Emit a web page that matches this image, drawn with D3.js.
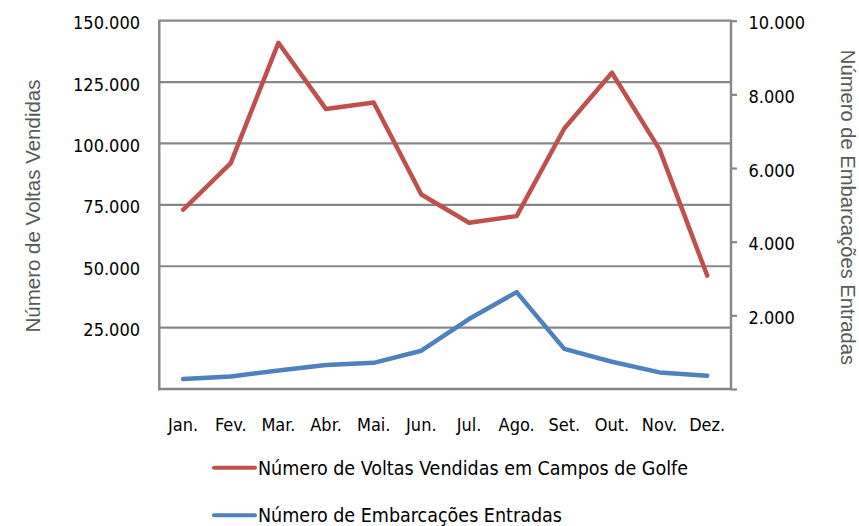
<!DOCTYPE html>
<html><head><meta charset="utf-8">
<script src="https://cdn.jsdelivr.net/npm/d3@7"></script>
<style>
body{margin:0;background:#fff;}
svg{display:block;}
</style></head><body>
<svg id="chart" width="859" height="526"></svg>
<script>
const months = ["Jan.","Fev.","Mar.","Abr.","Mai.","Jun.","Jul.","Ago.","Set.","Out.","Nov.","Dez."];
const voltas = [73000, 92000, 141000, 114000, 116700, 79200, 67700, 70400, 106100, 128800, 97600, 46200];
const embarcacoes = [270, 340, 500, 650, 710, 1040, 1900, 2630, 1090, 740, 450, 360];
const leftTicks = [25000, 50000, 75000, 100000, 125000, 150000];
const rightTicks = [2000, 4000, 6000, 8000, 10000];
const seriesNames = ["Número de Voltas Vendidas em Campos de Golfe", "Número de Embarcações Entradas"];
const colors = ["#C0504D", "#4F81BD"];

const svg = d3.select("#chart");
const L = 159.3, R = 731, T = 20.7, B = 389;
const fmt = v => d3.format(",")(v).replace(/,/g, ".");
const tickFont = "'DejaVu Sans Condensed', 'DejaVu Sans', sans-serif";

const x = d3.scaleBand().domain(months).range([L, R]);
const yL = d3.scaleLinear().domain([0, 150000]).range([B, T]);
const yR = d3.scaleLinear().domain([0, 10000]).range([B, T]);
const grid = "#878787";

// gridlines
svg.append("g").selectAll("line").data(leftTicks).join("line")
  .attr("x1", L).attr("x2", R).attr("y1", d => yL(d)).attr("y2", d => yL(d))
  .attr("stroke", grid).attr("stroke-width", 2.2);

// left axis line and bottom axis line
svg.append("line").attr("x1", L).attr("x2", L).attr("y1", T - 1).attr("y2", B + 1.2)
  .attr("stroke", grid).attr("stroke-width", 2.4);
svg.append("line").attr("x1", L - 1.2).attr("x2", R + 1).attr("y1", B).attr("y2", B)
  .attr("stroke", grid).attr("stroke-width", 2.4);

// right axis
const rAxis = svg.append("g").attr("transform", `translate(${R},0)`)
  .call(d3.axisRight(yR).tickValues([0, ...rightTicks]).tickSize(6).tickFormat(""));
rAxis.select(".domain").attr("stroke", grid).attr("stroke-width", 2.4).attr("d", `M0,${T - 1}V${B + 1}`);
rAxis.selectAll(".tick line").attr("stroke", grid).attr("stroke-width", 2.2);

// left tick labels
svg.append("g").selectAll("text").data([...leftTicks]).join("text")
  .attr("x", 140).attr("y", d => yL(d) + 8.6)
  .attr("text-anchor", "end").attr("font-family", tickFont).attr("font-size", 18)
  .attr("fill", "#000").text(fmt);

// right tick labels
svg.append("g").selectAll("text").data(rightTicks).join("text")
  .attr("x", 748.5).attr("y", d => yR(d) + 8.6)
  .attr("text-anchor", "start").attr("font-family", tickFont).attr("font-size", 18)
  .attr("fill", "#000").text(fmt);

// month labels
svg.append("g").selectAll("text").data(months).join("text")
  .attr("x", d => x(d) + x.bandwidth() / 2).attr("y", 431)
  .attr("text-anchor", "middle").attr("font-family", tickFont).attr("font-size", 18)
  .attr("fill", "#000").text(d => d);

// lines
const cx = d => x(d) + x.bandwidth() / 2;
const lineL = d3.line().x((d, i) => cx(months[i])).y(d => yL(d));
const lineR = d3.line().x((d, i) => cx(months[i])).y(d => yR(d));
svg.append("path").attr("d", lineL(voltas)).attr("fill", "none")
  .attr("stroke", colors[0]).attr("stroke-width", 4.5).attr("stroke-linejoin", "round").attr("stroke-linecap", "round");
svg.append("path").attr("d", lineR(embarcacoes)).attr("fill", "none")
  .attr("stroke", colors[1]).attr("stroke-width", 4.5).attr("stroke-linejoin", "round").attr("stroke-linecap", "round");

// axis titles
svg.append("text").attr("transform", "translate(40,206) rotate(-90)")
  .attr("text-anchor", "middle").attr("font-family", "'Liberation Sans', Arial, sans-serif")
  .attr("font-size", 20.5).attr("fill", "#595959").text("Número de Voltas Vendidas");
svg.append("text").attr("transform", "translate(840.5,207.5) rotate(90)")
  .attr("text-anchor", "middle").attr("font-family", "'Liberation Sans', Arial, sans-serif")
  .attr("font-size", 20.2).attr("fill", "#595959").text("Número de Embarcações Entradas");

// legend
const legY = [467.7, 515.3];
const leg = svg.append("g").selectAll("g").data(seriesNames).join("g");
leg.append("line").attr("x1", 214).attr("x2", 255).attr("y1", (d, i) => legY[i]).attr("y2", (d, i) => legY[i])
  .attr("stroke", (d, i) => colors[i]).attr("stroke-width", 4).attr("stroke-linecap", "round");
leg.append("text").attr("x", 258).attr("y", (d, i) => legY[i] + 7)
  .attr("font-family", tickFont).attr("font-size", 19.5).attr("fill", "#000").text(d => d);
</script>
</body></html>
